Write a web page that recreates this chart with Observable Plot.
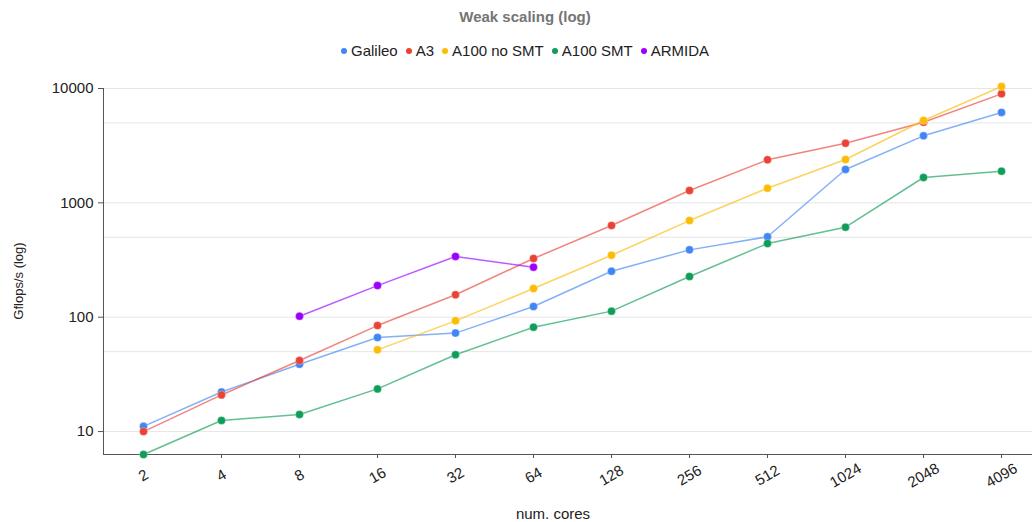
<!DOCTYPE html>
<html>
<head>
<meta charset="utf-8">
<script src="https://cdn.jsdelivr.net/npm/d3@7"></script>
<script src="https://cdn.jsdelivr.net/npm/@observablehq/plot@0.6"></script>
<style>
  body { margin: 0; background: #fff; }
  #wrap { position: relative; width: 1032px; height: 522px; font-family: "Liberation Sans", Arial, sans-serif; }
  #title { position: absolute; top: 8px; left: 18px; width: 1014px; text-align: center; font-weight: bold; font-size: 15px; color: #757575; }
  #legend { position: absolute; top: 42px; left: 18px; width: 1014px; display: flex; justify-content: center; font-size: 15px; color: #222; line-height: 18px; }
  #legend .item { display: flex; align-items: center; margin: 0 4px; }
  #legend .sw { width: 6px; height: 6px; border-radius: 50%; margin-right: 4px; }
  #chart { position: absolute; top: 65px; left: 0; }
  #ytitle { position: absolute; left: 18px; top: 281px; transform: translate(-50%, -50%) rotate(-90deg); font-size: 13px; color: #222; white-space: nowrap; }
  #xtitle { position: absolute; left: 553px; top: 513px; transform: translate(-50%, -50%); font-size: 15px; color: #222; white-space: nowrap; }
</style>
</head>
<body>
<div id="wrap">
  <div id="title">Weak scaling (log)</div>
  <div id="legend"></div>
  <div id="chart"></div>
  <div id="ytitle">Gflops/s (log)</div>
  <div id="xtitle">num. cores</div>
</div>
<script>
// Core counts on the x axis
const cores = ["2", "4", "8", "16", "32", "64", "128", "256", "512", "1024", "2048", "4096"];

// Measured throughput (Gflops/s) per machine, aligned with `cores`; null = not run
const galileo   = [11.1, 22.2, 38.8, 66.4, 72.6, 124, 252, 388, 505, 1958, 3855, 6166];
const a3        = [10.0, 20.9, 41.8, 84.5, 157, 326, 634, 1282, 2378, 3323, 5075, 8980];
const a100NoSmt = [null, null, null, 51.8, 92.9, 178, 348, 700, 1343, 2393, 5250, 10400];
const a100Smt   = [6.3, 12.5, 14.1, 23.6, 47, 81.8, 113, 227, 441, 613, 1666, 1892];
const armida    = [null, null, 102, 189, 340, 274, null, null, null, null, null, null];

const seriesNames = ["Galileo", "A3", "A100 no SMT", "A100 SMT", "ARMIDA"];
const seriesValues = [galileo, a3, a100NoSmt, a100Smt, armida];
const seriesColors = ["#4285f4", "#ea4335", "#fbbc04", "#0f9d58", "#9b00ff"];

const yTicks = [10, 100, 1000, 10000];
const yGrid = [10, 50, 100, 500, 1000, 5000, 10000];
const yDomain = [6.3, 10000];

// Long-format rows for Plot
const rows = [];
seriesNames.forEach((name, s) => {
  seriesValues[s].forEach((v, i) => {
    if (v != null) rows.push({series: name, cores: cores[i], value: v});
  });
});

// Legend
const legend = document.getElementById("legend");
seriesNames.forEach((name, s) => {
  const item = document.createElement("div");
  item.className = "item";
  const sw = document.createElement("span");
  sw.className = "sw";
  sw.style.background = seriesColors[s];
  item.appendChild(sw);
  item.appendChild(document.createTextNode(name));
  legend.appendChild(item);
});

// Left axis line drawn along the frame edge
function leftAxisLine(index, scales, values, dimensions) {
  const {marginLeft, marginTop, marginBottom, height} = dimensions;
  const line = document.createElementNS("http://www.w3.org/2000/svg", "line");
  line.setAttribute("x1", marginLeft + 0.5);
  line.setAttribute("x2", marginLeft + 0.5);
  line.setAttribute("y1", marginTop);
  line.setAttribute("y2", height - marginBottom);
  line.setAttribute("stroke", "#555");
  return line;
}

const chart = Plot.plot({
  width: 1032,
  height: 457,
  marginLeft: 103,
  marginRight: 0,
  marginTop: 23,
  marginBottom: 68,
  style: {fontFamily: "'Liberation Sans', Arial, sans-serif", fontSize: "15px", color: "#222", background: "transparent"},
  x: {type: "point", domain: cores, padding: 0, insetLeft: 38, insetRight: 30, label: null},
  y: {type: "log", domain: yDomain, label: null},
  color: {domain: seriesNames, range: seriesColors},
  marks: [
    Plot.ruleY(yGrid, {stroke: "#e6e6e6", strokeWidth: 1}),
    Plot.ruleY([yDomain[0]], {stroke: "#555"}),
    leftAxisLine,
    Plot.axisY({ticks: yTicks, tickFormat: d => String(d), tickSize: 5, tickPadding: 5, fontSize: 15, stroke: "#555", label: null}),
    Plot.axisX({tickRotate: -30, textAnchor: "middle", lineAnchor: "middle", tickSize: 4, tickPadding: 17, fontSize: 15, stroke: "#555", label: null}),
    Plot.line(rows, {x: "cores", y: "value", z: "series", stroke: "series", strokeWidth: 1.5, strokeOpacity: 0.65}),
    Plot.dot(rows, {x: "cores", y: "value", fill: "series", r: 4, stroke: "white", strokeWidth: 0.5, strokeOpacity: 0.6})
  ]
});
document.getElementById("chart").appendChild(chart);
</script>
</body>
</html>
